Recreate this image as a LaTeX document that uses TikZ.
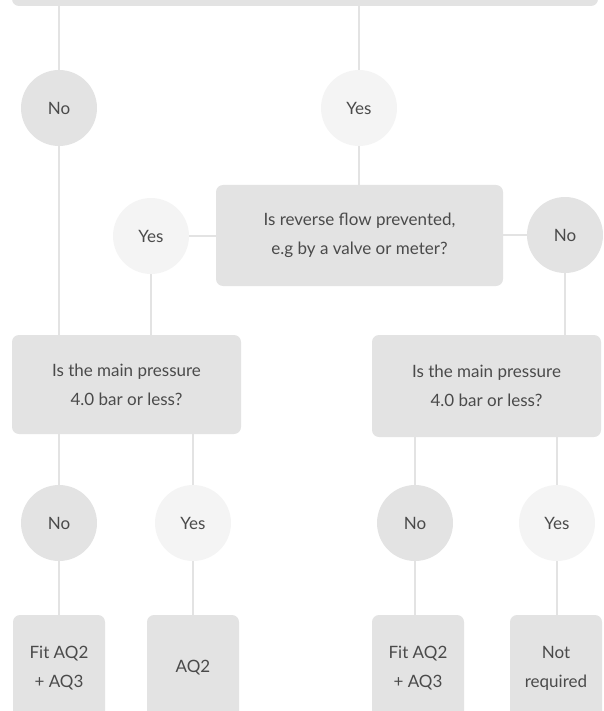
\documentclass[tikz,border=0pt]{standalone}
\usepackage{fontspec}
\setmainfont{Lato}
\usetikzlibrary{backgrounds}
\definecolor{boxgray}{HTML}{E3E3E3}
\definecolor{yesgray}{HTML}{F4F4F4}
\definecolor{txtgray}{HTML}{4A4A4A}
\tikzset{
  base/.style={text=txtgray, font=\fontsize{17}{29}\selectfont, align=center, inner sep=0pt},
  qbox/.style={base, fill=boxgray, rounded corners=7pt},
  nocirc/.style={base, circle, fill=boxgray, minimum size=76pt},
  yescirc/.style={base, circle, fill=yesgray, minimum size=76pt},
  link/.style={draw=boxgray, line width=2.6pt},
}
\begin{document}
\begin{tikzpicture}[x=1pt,y=-1pt]
\useasboundingbox (0,0) rectangle (604,711);
\clip (0,0) rectangle (604,711);
% top box (cropped)
\node[qbox, minimum width=586pt, minimum height=60pt] (top) at (305,-24) {};
% first answers
\node[nocirc] (no1) at (59,108) {No};
\node[yescirc] (yes1) at (359,108) {Yes};
% reverse flow question
\node[qbox, minimum width=287pt, minimum height=101pt] (rev) at (359.5,235.5) {Is reverse flow prevented,\\e.g by a valve or meter?};
\node[yescirc] (yes2) at (151,236) {Yes};
\node[nocirc] (no2) at (565,235) {No};
% pressure questions
\node[qbox, minimum width=229pt, minimum height=99pt] (pl) at (126.5,384.5) {Is the main pressure\\4.0 bar or less?};
\node[qbox, minimum width=229pt, minimum height=102pt] (pr) at (486.5,386) {Is the main pressure\\4.0 bar or less?};
% bottom answers
\node[nocirc] (no3) at (59,523) {No};
\node[yescirc] (yes3) at (193,523) {Yes};
\node[nocirc] (no4) at (415,523) {No};
\node[yescirc] (yes4) at (557,523) {Yes};
% outcomes (cropped)
\node[qbox, minimum width=92pt, minimum height=106pt] (r1) at (59,668) {Fit AQ2\\+ AQ3};
\node[qbox, minimum width=92pt, minimum height=106pt] (r2) at (193,668) {AQ2};
\node[qbox, minimum width=92pt, minimum height=106pt] (r3) at (418,668) {Fit AQ2\\+ AQ3};
\node[qbox, minimum width=92pt, minimum height=106pt] (r4) at (556,668) {Not\\required};
\begin{pgfonlayer}{background}
\draw[link] (no1.center |- top.center) -- (no1.center);
\draw[link] (yes1.center |- top.center) -- (yes1.center) -- (yes1.center |- rev.center);
\draw[link] (yes2.center) -- (yes2.center -| rev.center);
\draw[link] (no2.center) -- (no2.center -| rev.center);
\draw[link] (no1.center) -- (no1.center |- pl.center);
\draw[link] (yes2.center) -- (yes2.center |- pl.center);
\draw[link] (no2.center) -- (no2.center |- pr.center);
\draw[link] (no3.center |- pl.center) -- (no3.center) -- (no3.center |- r1.center);
\draw[link] (yes3.center |- pl.center) -- (yes3.center) -- (yes3.center |- r2.center);
\draw[link] (no4.center |- pr.center) -- (no4.center) -- (no4.center |- r3.center);
\draw[link] (yes4.center |- pr.center) -- (yes4.center) -- (yes4.center |- r4.center);
\end{pgfonlayer}
\end{tikzpicture}
\end{document}
